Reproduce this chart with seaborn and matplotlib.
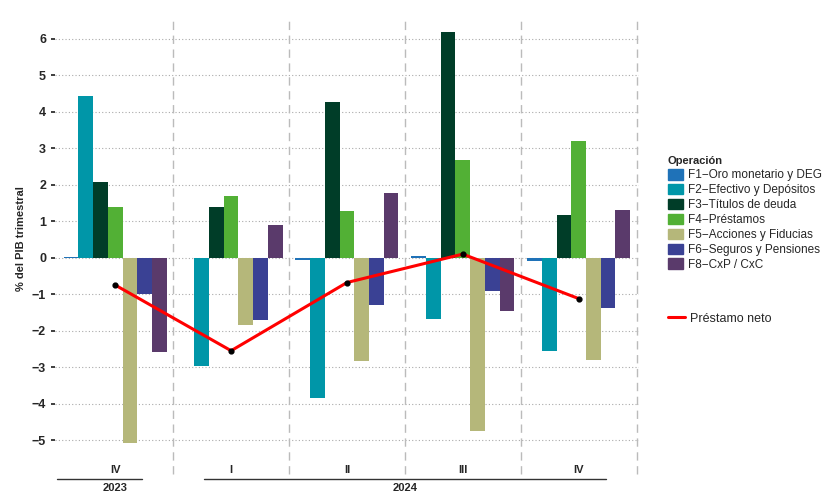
import pandas as pd
import matplotlib
matplotlib.use('Agg')
import matplotlib.pyplot as plt
import matplotlib.transforms as mtransforms
from matplotlib.lines import Line2D
import seaborn as sns

quarters = ["2023 IV", "2024 I", "2024 II", "2024 III", "2024 IV"]
quarter_labels = ["IV", "I", "II", "III", "IV"]
series = ["F1\u2212Oro monetario y DEG", "F2\u2212Efectivo y Depósitos", "F3\u2212Títulos de deuda",
          "F4\u2212Préstamos", "F5\u2212Acciones y Fiducias", "F6\u2212Seguros y Pensiones", "F8\u2212CxP / CxC"]
f1 = [0.02, -0.02, -0.05, 0.04, -0.08]
f2 = [4.43, -2.97, -3.84, -1.68, -2.56]
f3 = [2.07, 1.38, 4.26, 6.19, 1.17]
f4 = [1.39, 1.69, 1.28, 2.67, 3.19]
f5 = [-5.07, -1.85, -2.83, -4.75, -2.80]
f6 = [-1.00, -1.72, -1.30, -0.92, -1.38]
f8 = [-2.58, 0.89, 1.77, -1.45, 1.31]
prestamo_neto = [-0.75, -2.55, -0.68, 0.10, -1.12]
colors = ["#1f72b8", "#0096a8", "#003d28", "#52b035", "#b5b77a", "#3a4194", "#5a3a6b"]

rows = []
for name, vals in zip(series, [f1, f2, f3, f4, f5, f6, f8]):
    for q, v in zip(quarters, vals):
        rows.append({"Trimestre": q, "Operación": name, "valor": v})
df = pd.DataFrame(rows)

sns.set_theme(style="white")
plt.rcParams['font.family'] = ['Liberation Sans', 'DejaVu Sans']
fig = plt.figure(figsize=(8.34, 4.94), dpi=100)
ax = fig.add_axes([0.066, 0.076, 0.7, 0.882])

sns.barplot(data=df, x="Trimestre", y="valor", hue="Operación", order=quarters,
            hue_order=series, palette=colors, width=0.89, saturation=1, linewidth=0,
            ax=ax, legend=False)
ax.plot(range(5), prestamo_neto, color="red", lw=2.2, zorder=5)
ax.scatter(range(5), prestamo_neto, color="black", s=12, zorder=6)

ax.set_xlim(-0.52, 4.52)
ax.set_ylim(-5.45, 6.5)
ax.set_yticks(range(-5, 7))
ax.set_yticklabels([str(v).replace("-", "\u2212") for v in range(-5, 7)], fontsize=9, fontweight='bold')
ax.yaxis.grid(True, linestyle=(0, (1, 2)), color="#aaaaaa", lw=0.8)
ax.set_axisbelow(True)
for xs in [0.5, 1.5, 2.5, 3.5, 4.5]:
    ax.axvline(xs, color="#bbbbbb", lw=1, linestyle=(0, (6, 4)), ymin=-0.04, clip_on=False)
for s in ax.spines.values():
    s.set_visible(False)
ax.set_xticks([])
ax.set_xlabel("")
ax.set_ylabel("% del PIB trimestral", fontsize=8, fontweight='bold')
ax.tick_params(axis='y', length=3, left=True)

trans = mtransforms.blended_transform_factory(ax.transData, ax.transAxes)
for i, lab in enumerate(quarter_labels):
    ax.text(i, -0.031, lab, transform=trans, ha='center', va='center', fontsize=8, fontweight='bold')
ax.plot([-0.5, 0.23], [-0.052, -0.052], transform=trans, color="#333333", lw=1, clip_on=False)
ax.plot([0.77, 4.24], [-0.052, -0.052], transform=trans, color="#333333", lw=1, clip_on=False)
ax.text(0, -0.073, "2023", transform=trans, ha='center', va='center', fontsize=8, fontweight='bold')
ax.text(2.5, -0.073, "2024", transform=trans, ha='center', va='center', fontsize=8, fontweight='bold')

handles = [plt.Rectangle((0, 0), 1, 1, color=c) for c in colors]
leg = fig.legend(handles, series, title="Operación", loc="upper left", bbox_to_anchor=(0.788, 0.705),
                 frameon=False, fontsize=8.5, handlelength=1.3, handleheight=1.0,
                 handletextpad=0.4, labelspacing=0.22, alignment='left')
leg.get_title().set_fontweight('bold')
leg.get_title().set_fontsize(8)
leg2 = fig.legend([Line2D([], [], color="red", lw=2.2)], ["Préstamo neto"], loc="upper left",
                  bbox_to_anchor=(0.788, 0.39), frameon=False, fontsize=9, handlelength=1.3,
                  handletextpad=0.4)

fig.savefig("out.png", dpi=100)
